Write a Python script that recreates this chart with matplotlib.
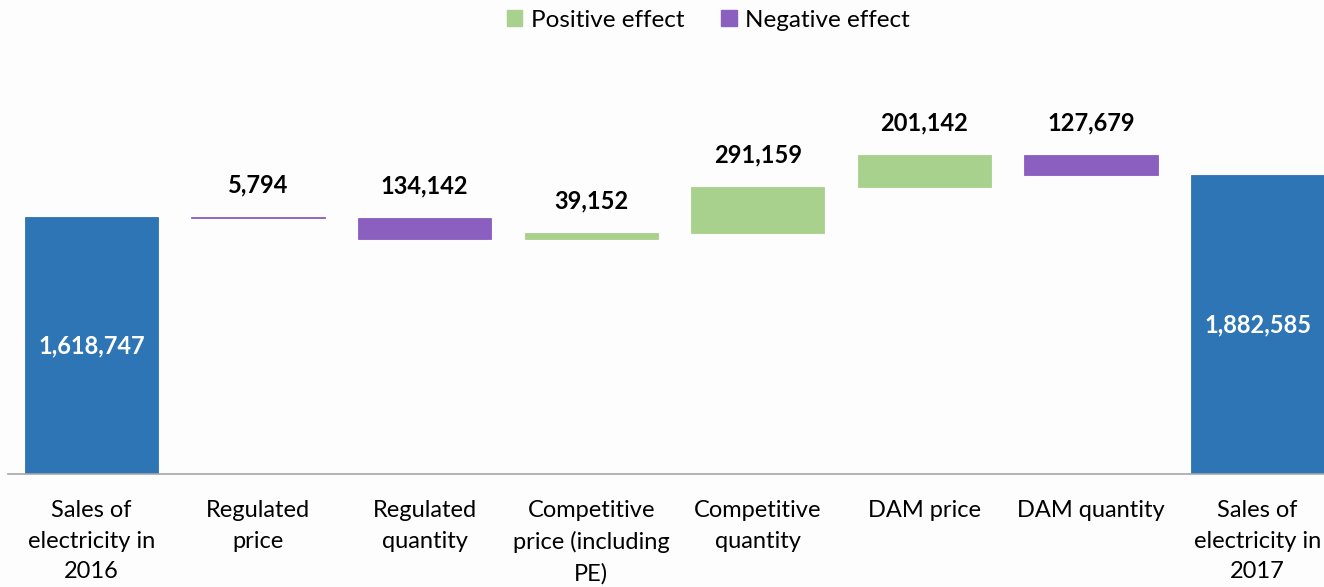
import numpy as np
import matplotlib.pyplot as plt
from matplotlib.patches import Patch

plt.rcParams['font.family'] = ['Lato', 'DejaVu Sans']

categories = ["Sales of\nelectricity in\n2016", "Regulated\nprice", "Regulated\nquantity",
              "Competitive\nprice (including\nPE)", "Competitive\nquantity", "DAM price",
              "DAM quantity", "Sales of\nelectricity in\n2017"]
start_value = 1618747
effects = [-5794, -134142, 39152, 291159, 201142, -127679]
end_value = 1882585

BLUE = "#2E75B6"
GREEN = "#A9D18E"
PURPLE = "#8B5FBF"

# waterfall bottoms / heights
cum = start_value + np.concatenate([[0], np.cumsum(effects)])
bottoms = [0]
heights = [start_value]
colors = [BLUE]
for i, e in enumerate(effects):
    prev, cur = cum[i], cum[i + 1]
    bottoms.append(min(prev, cur))
    heights.append(abs(e))
    colors.append(GREEN if e > 0 else PURPLE)
bottoms.append(0)
heights.append(end_value)
colors.append(BLUE)

fig = plt.figure(figsize=(13.24, 5.87), dpi=100)
fig.patch.set_facecolor("#FDFDFD")
ax = fig.add_axes([8 / 1324, 113 / 587, 1333 / 1324, 381 / 587])
ax.set_facecolor("none")

x = np.arange(len(categories))
ax.bar(x, heights, bottom=bottoms, width=0.8, color=colors, edgecolor=colors, linewidth=0.6)
ax.set_xlim(-0.5, len(categories) - 0.5)
ax.set_ylim(0, 2400000)

for s in ["top", "right", "left"]:
    ax.spines[s].set_visible(False)
ax.spines["bottom"].set_color("#A6A6A6")
ax.spines["bottom"].set_linewidth(1.2)
ax.set_yticks([])
ax.set_xticks(x)
ax.set_xticklabels(categories, fontsize=17, linespacing=1.55)
ax.tick_params(axis="x", length=0, pad=19)

# values
ax.text(x[0], start_value / 2, f"{start_value:,}", ha="center", va="center",
        color="white", fontsize=17, fontweight="bold")
ax.text(x[-1], end_value / 2, f"{end_value:,}", ha="center", va="center",
        color="white", fontsize=17, fontweight="bold")
for i, e in enumerate(effects):
    top = bottoms[i + 1] + heights[i + 1]
    ax.annotate(f"{abs(e):,}", (x[i + 1], top), xytext=(0, 23), textcoords="offset points",
                ha="center", va="center", fontsize=17, fontweight="bold", color="black")

handles = [Patch(color=GREEN, label="Positive effect"), Patch(color=PURPLE, label="Negative effect")]
fig.legend(handles=handles, loc="upper center", bbox_to_anchor=(0.535, 1.021), ncol=2,
           frameon=False, fontsize=17.5, handlelength=0.65, handleheight=0.65,
           handletextpad=0.35, columnspacing=1.5)

fig.savefig("out.png", dpi=100, facecolor=fig.get_facecolor())
